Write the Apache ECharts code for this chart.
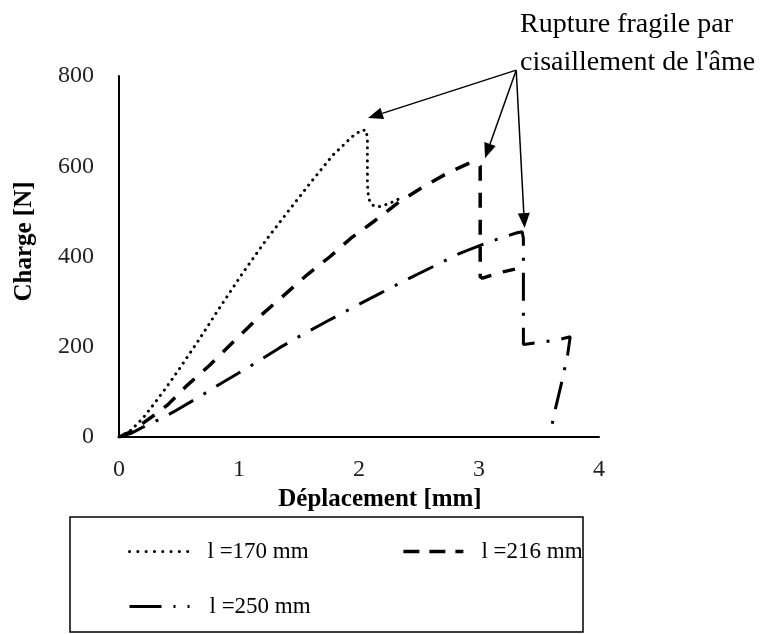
<!DOCTYPE html>
<html>
<head>
<meta charset="utf-8">
<script src="https://cdn.jsdelivr.net/npm/echarts@6/dist/echarts.min.js"></script>
<style>
  html, body { margin: 0; padding: 0; background: #fff; }
  #chart { width: 766px; height: 634px; }
</style>
</head>
<body>
<div id="chart"></div>
<script>
// l = 170 mm (pointillé)
const disp170 = [0, 0.1, 0.2, 0.3, 0.4, 0.5, 0.66, 0.84, 1.03, 1.23, 1.43, 1.6, 1.78, 1.94, 2.02, 2.06, 2.07, 2.07, 2.08, 2.11, 2.16, 2.25, 2.35]
const load170 = [0, 15, 42, 76, 112, 150, 213, 287, 363, 438, 507, 565, 624, 665, 680, 680, 660, 560, 528, 514, 510, 517, 530]
// l = 216 mm (tirets)
const disp216 = [0, 0.1, 0.26, 0.4, 0.57, 0.76, 0.93, 1.15, 1.4, 1.57, 1.76, 1.93, 2.12, 2.34, 2.55, 2.76, 2.93, 2.98, 3.01, 3.01, 3.03, 3.1, 3.2, 3.3]
const load216 = [0, 12, 42, 70, 115, 160, 205, 262, 320, 360, 400, 440, 477, 522, 557, 588, 608, 608, 600, 355, 352, 358, 366, 372]
// l = 250 mm (tiret-point)
const disp250 = [0, 0.1, 0.2, 0.33, 0.45, 0.65, 0.87, 1.07, 1.34, 1.51, 1.73, 1.95, 2.18, 2.4, 2.62, 2.84, 3.08, 3.31, 3.36, 3.37, 3.37, 3.52, 3.65, 3.76, 3.74, 3.69, 3.63, 3.6]
const load250 = [0, 8, 22, 38, 55, 86, 122, 153, 198, 224, 256, 287, 319, 349, 378, 407, 432, 452, 455, 440, 205, 210, 215, 222, 185, 122, 55, 15]

const dispTicks = [0, 1, 2, 3, 4]
const loadTicks = [0, 200, 400, 600, 800]

const seriesNames = ['l =170 mm', 'l =216 mm', 'l =250 mm']
const noteText = "Rupture fragile par\ncisaillement de l'âme"
// flèches : point de départ commun et pointes (coord. données)
const arrowFrom = [3.31, 813]
const arrowTips = [[2.075, 707], [3.05, 618], [3.38, 463]]

const serif = '"Liberation Serif", "Times New Roman", serif'

const pts = (xs, ys) => xs.map((x, i) => [x, ys[i]])

let chart = echarts.init(document.getElementById('chart'))

const legendText = { fontFamily: serif, fontSize: 23, color: '#000', padding: [0, 0, 0, 13] }
const noSymbol = { color: 'rgba(0,0,0,0)', borderWidth: 0, opacity: 0 }

chart.setOption({
  animation: false,
  grid: { left: 119, right: 167, top: 76, bottom: 197 },
  xAxis: {
    type: 'value',
    min: dispTicks[0],
    max: dispTicks[dispTicks.length - 1],
    interval: dispTicks[1] - dispTicks[0],
    name: 'Déplacement [mm]',
    nameLocation: 'middle',
    nameGap: 45,
    nameTextStyle: { fontFamily: serif, fontSize: 25, fontWeight: 'bold', color: '#000', padding: [0, 0, 0, 42] },
    axisLine: { lineStyle: { color: '#000', width: 2 } },
    axisTick: { show: false },
    splitLine: { show: false },
    axisLabel: { fontFamily: serif, fontSize: 24, color: '#222', margin: 21 }
  },
  yAxis: {
    type: 'value',
    min: loadTicks[0],
    max: loadTicks[loadTicks.length - 1],
    interval: loadTicks[1] - loadTicks[0],
    name: 'Charge [N]',
    nameLocation: 'middle',
    nameGap: 82,
    nameTextStyle: { fontFamily: serif, fontSize: 25, fontWeight: 'bold', color: '#000', padding: [0, 0, 0, 30] },
    axisLine: { show: true, lineStyle: { color: '#000', width: 2 } },
    axisTick: { show: false },
    splitLine: { show: false },
    axisLabel: { fontFamily: serif, fontSize: 24, color: '#222', margin: 25 }
  },
  legend: [
    {
      data: [
        { name: seriesNames[0], lineStyle: { type: [0.1, 8.2], width: 3, cap: 'round' } },
        { name: seriesNames[1], lineStyle: { type: [16, 10], width: 3.5 } }
      ],
      left: 123, top: 535,
      itemWidth: 60, itemHeight: 14, itemGap: 93,
      selectedMode: false,
      itemStyle: noSymbol,
      textStyle: legendText
    },
    {
      data: [{ name: seriesNames[2], lineStyle: { type: [32, 12, 2, 12, 2, 40], width: 3 } }],
      left: 123, top: 590,
      itemWidth: 62, itemHeight: 14,
      selectedMode: false,
      itemStyle: noSymbol,
      textStyle: legendText
    }
  ],
  series: [
    {
      name: seriesNames[0], type: 'line', symbol: 'none',
      data: pts(disp170, load170),
      itemStyle: { color: '#000' },
      lineStyle: { color: '#000', width: 3, type: [0.1, 6.5], cap: 'round' }
    },
    {
      name: seriesNames[1], type: 'line', symbol: 'none',
      data: pts(disp216, load216),
      itemStyle: { color: '#000' },
      lineStyle: { color: '#000', width: 3.5, type: [15, 12] }
    },
    {
      name: seriesNames[2], type: 'line', symbol: 'none',
      data: pts(disp250, load250),
      itemStyle: { color: '#000' },
      lineStyle: { color: '#000', width: 3, type: [28, 12, 3, 12] }
    }
  ]
})

// annotations : flèches calées sur les axes
let from = chart.convertToPixel({ gridIndex: 0 }, arrowFrom)
let graphic = [
  {
    type: 'rect',
    shape: { x: 70, y: 517, width: 513, height: 115 },
    style: { fill: 'none', stroke: '#000', lineWidth: 1.5 }
  },
  {
    type: 'text', x: 520, y: 6,
    style: { text: noteText, fontFamily: serif, fontSize: 28, lineHeight: 38, fill: '#000' }
  }
]
arrowTips.forEach(tip => {
  let to = chart.convertToPixel({ gridIndex: 0 }, tip)
  let dx = to[0] - from[0], dy = to[1] - from[1]
  let len = Math.sqrt(dx * dx + dy * dy)
  let ux = dx / len, uy = dy / len
  let headLen = 15, headW = 6
  let bx = to[0] - ux * headLen, by = to[1] - uy * headLen
  graphic.push({
    type: 'line',
    shape: { x1: from[0], y1: from[1], x2: bx, y2: by },
    style: { stroke: '#000', lineWidth: 1.5 }
  })
  graphic.push({
    type: 'polygon',
    shape: { points: [to, [bx - uy * headW, by + ux * headW], [bx + uy * headW, by - ux * headW]] },
    style: { fill: '#000' }
  })
})
chart.setOption({ graphic })
</script>
</body>
</html>
